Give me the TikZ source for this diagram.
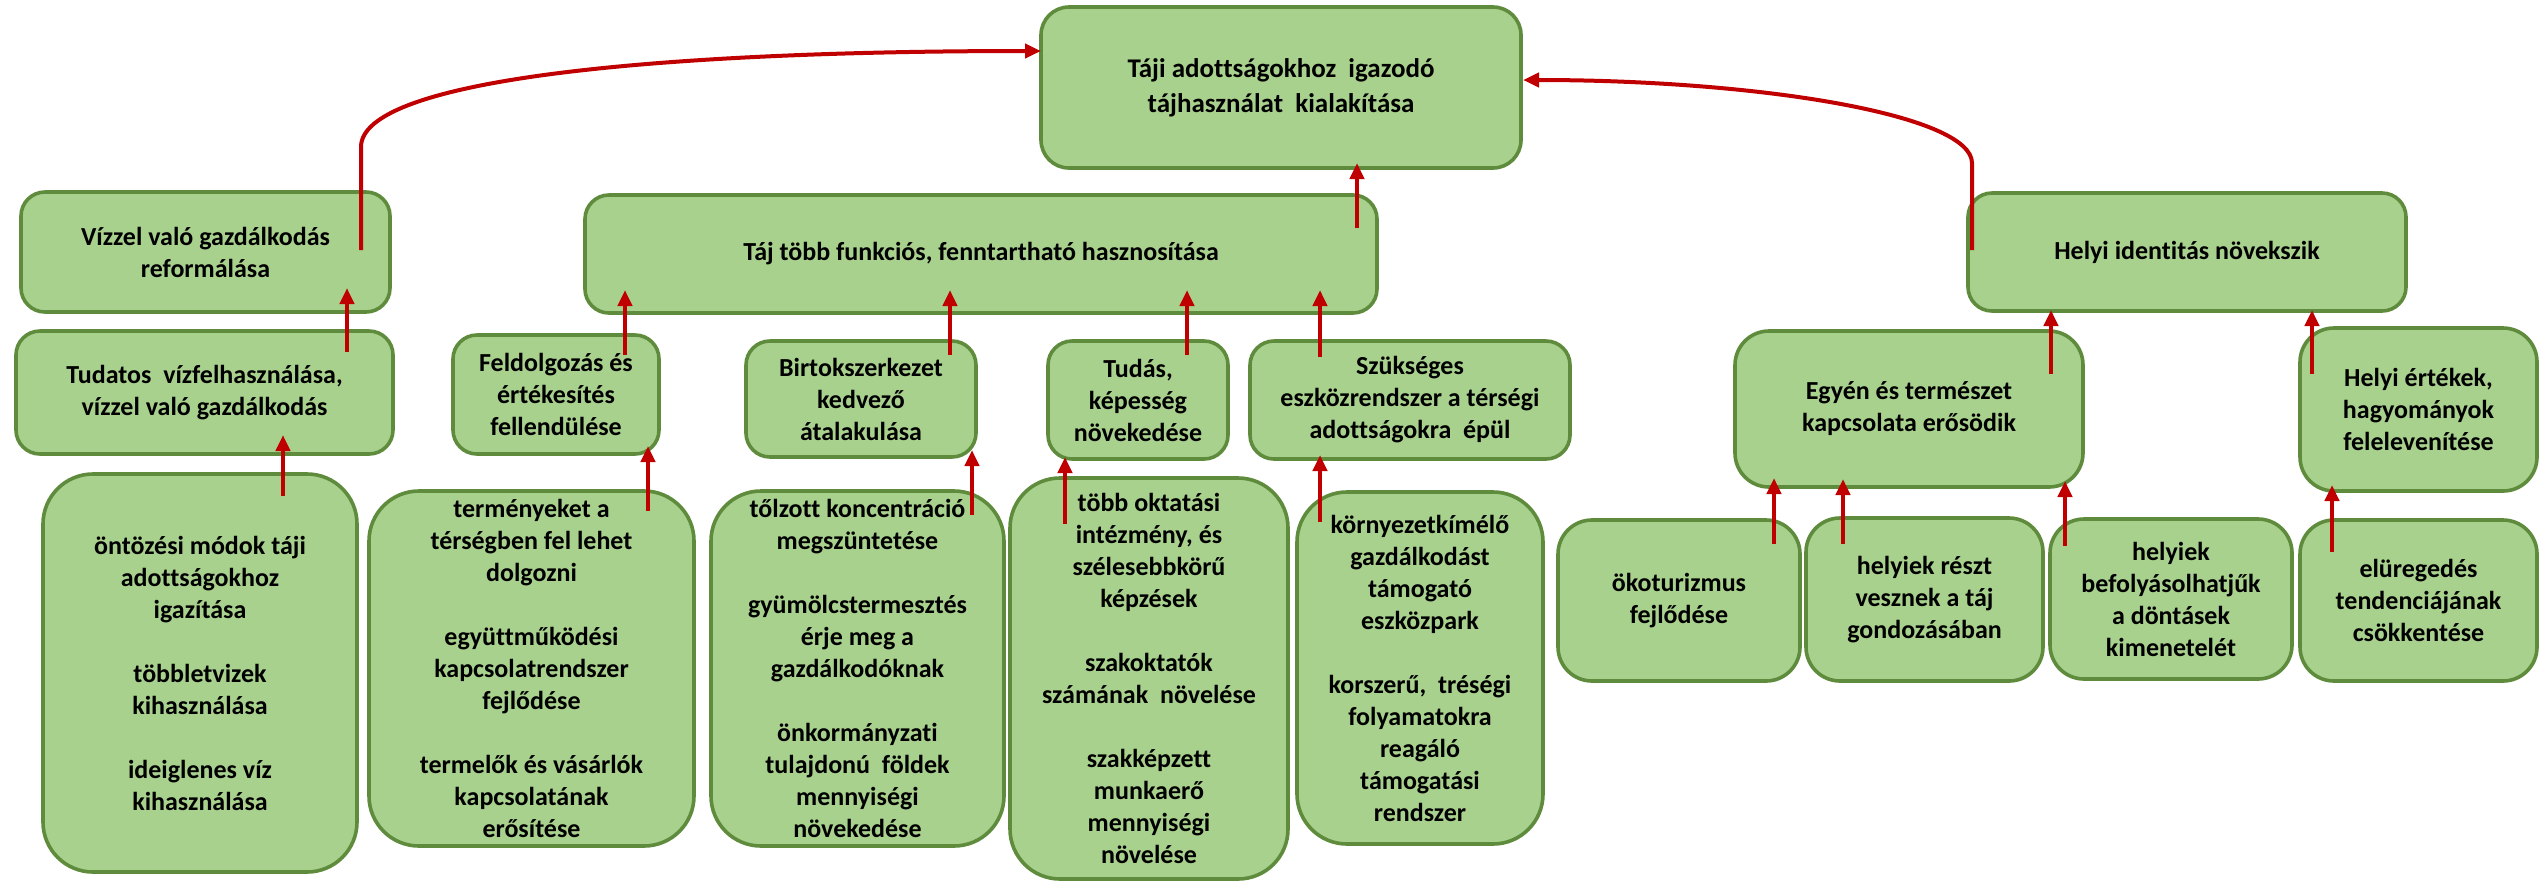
\documentclass[tikz,border=0pt]{standalone}
\usepackage{fontspec}
\setmainfont{Carlito}[Ligatures=CommonOff]
\usetikzlibrary{arrows.meta,calc}
\definecolor{boxfill}{HTML}{A9D18E}
\definecolor{boxline}{HTML}{5E8C3C}
\definecolor{arrred}{HTML}{C00000}
\tikzset{
 box/.style={draw=boxline, fill=boxfill, line width=1.8pt, rounded corners=12pt, align=center,
   font=\fontsize{13}{16}\selectfont\bfseries, inner sep=0pt, outer sep=0pt, text=black},
 topbox/.style={box, rounded corners=14pt, font=\fontsize{13.5}{17.5}\selectfont\bfseries},
 midbox/.style={box, rounded corners=17pt},
 tallbox/.style={box, rounded corners=25pt},
 arr/.style={draw=arrred, line width=2pt, -{Triangle[width=7pt,length=8pt]}},
}
\newcommand\mkbox[7][box]{\node[#1, minimum width={(#5-#3)*0.5pt}, minimum height={(#6-#4)*0.5pt}] (#2) at ({(#3+#5)/2},{(#4+#6)/2}) {#7};}
\begin{document}
\begin{tikzpicture}[x=0.5pt,y=-0.5pt]
\useasboundingbox[fill=white] (0,0) rectangle (2539,880);
% top level
\mkbox[topbox]{top}{1041}{7}{1521}{168}{Táji adottságokhoz\ \ igazodó\\tájhasználat\ \ kialakítása}
% second level
\mkbox{viz}{21}{192}{390}{312}{Vízzel való gazdálkodás\\reformálása}
\mkbox{tajtobb}{585}{195}{1377}{313}{Táj több funkciós, fenntartható hasznosítása}
\mkbox{helyi}{1968}{193}{2406}{311}{Helyi identitás növekszik}
% third level
\mkbox{tudatos}{16}{331}{393}{454}{Tudatos\ \ vízfelhasználása,\\vízzel való gazdálkodás}
\mkbox{feld}{453}{335}{659}{454}{Feldolgozás és\\értékesítés\\fellendülése}
\mkbox{birtok}{746}{341}{976}{457}{Birtokszerkezet\\kedvező\\átalakulása}
\mkbox{tudas}{1048}{341}{1228}{459}{Tudás,\\képesség\\növekedése}
\mkbox{szuks}{1250}{341}{1570}{459}{Szükséges\\eszközrendszer a térségi\\adottságokra\ \ épül}
\mkbox[midbox]{egyen}{1735}{331}{2083}{487}{Egyén és természet\\kapcsolata erősödik}
\mkbox[midbox]{helyiert}{2300}{328}{2537}{491}{Helyi értékek,\\hagyományok\\felelevenítése}
% bottom level
\mkbox[tallbox]{ontoz}{43}{474}{357}{872}{öntözési módok táji\\adottságokhoz\\igazítása\\[16pt]többletvizek\\kihasználása\\[16pt]ideiglenes víz\\kihasználása}
\mkbox[tallbox]{termeny}{369}{491}{694}{846}{terményeket a\\térségben fel lehet\\dolgozni\\[16pt]együttműködési\\kapcsolatrendszer\\fejlődése\\[16pt]termelők és vásárlók\\kapcsolatának\\erősítése}
\mkbox[tallbox]{tolzott}{711}{491}{1004}{846}{tőlzott koncentráció\\megszüntetése\\[16pt]gyümölcstermesztés\\érje meg a\\gazdálkodóknak\\[16pt]önkormányzati\\tulajdonú\ \ földek\\mennyiségi\\növekedése}
\mkbox[tallbox]{tobb}{1010}{478}{1288}{879}{több oktatási\\intézmény, és\\szélesebbkörű\\képzések\\[16pt]szakoktatók\\számának\ \ növelése\\[16pt]szakképzett\\munkaerő\\mennyiségi\\növelése}
\mkbox[tallbox]{kornyezet}{1297}{492}{1543}{844}{környezetkímélő\\gazdálkodást\\támogató\\eszközpark\\[16pt]korszerű,\ \ tréségi\\folyamatokra\\reagáló\\támogatási\\rendszer}
\mkbox[midbox]{oko}{1558}{520}{1800}{681}{ökoturizmus\\fejlődése}
\mkbox[midbox]{reszt}{1806}{518}{2043}{681}{helyiek részt\\vesznek a táj\\gondozásában}
\mkbox[midbox]{befoly}{2050}{519}{2292}{679}{helyiek\\befolyásolhatjűk\\a döntásek\\kimenetelét}
\mkbox[midbox]{eluereg}{2300}{520}{2537}{681}{elüregedés\\tendenciájának\\csökkentése}
% straight arrows
\draw[arr] ($(tudatos.north west)+(331,21)$) -- ($(viz.south west)+(326,-24)$);
\draw[arr] ($(ontoz.north west)+(240,22)$) -- ($(tudatos.south west)+(267,-19)$);
\draw[arr] ($(feld.north west)+(172,20)$) -- ($(tajtobb.south west)+(40,-23)$);
\draw[arr] ($(termeny.north west)+(279,20)$) -- ($(feld.south west)+(195,-8)$);
\draw[arr] ($(birtok.north west)+(204,14)$) -- ($(tajtobb.south west)+(365,-23)$);
\draw[arr] ($(tolzott.north west)+(261,24)$) -- ($(birtok.south west)+(226,-7)$);
\draw[arr] ($(tudas.north west)+(139,14)$) -- ($(tajtobb.south west)+(602,-23)$);
\draw[arr] ($(tobb.north west)+(55,46)$) -- ($(tudas.south west)+(17,-2)$);
\draw[arr] ($(szuks.north west)+(70,16)$) -- ($(tajtobb.south west)+(735,-23)$);
\draw[arr] ($(kornyezet.north west)+(23,30)$) -- ($(szuks.south west)+(70,-4)$);
\draw[arr] ($(tajtobb.north west)+(772,33)$) -- ($(top.south west)+(316,-5)$);
\draw[arr] ($(egyen.north west)+(316,43)$) -- ($(helyi.south west)+(83,-1)$);
\draw[arr] ($(helyiert.north west)+(12,46)$) -- ($(helyi.south west)+(344,-1)$);
\draw[arr] ($(oko.north west)+(216,24)$) -- ($(egyen.south west)+(39,-9)$);
\draw[arr] ($(reszt.north west)+(37,26)$) -- ($(egyen.south west)+(108,-8)$);
\draw[arr] ($(befoly.north west)+(15,27)$) -- ($(egyen.south west)+(330,-6)$);
\draw[arr] ($(eluereg.north west)+(32,32)$) -- ($(helyiert.south west)+(32,-6)$);
% curved arrows
\draw[arr] ($(viz.north west)+(340,58)$) -- (361,147) .. controls (361,80) and (650,51) .. ($(top.north west)+(0,44)$);
\draw[arr] ($(helyi.north west)+(4,57)$) -- (1972,163) .. controls (1972,115) and (1760,80) .. ($(top.north east)+(2,73)$);
\end{tikzpicture}
\end{document}
